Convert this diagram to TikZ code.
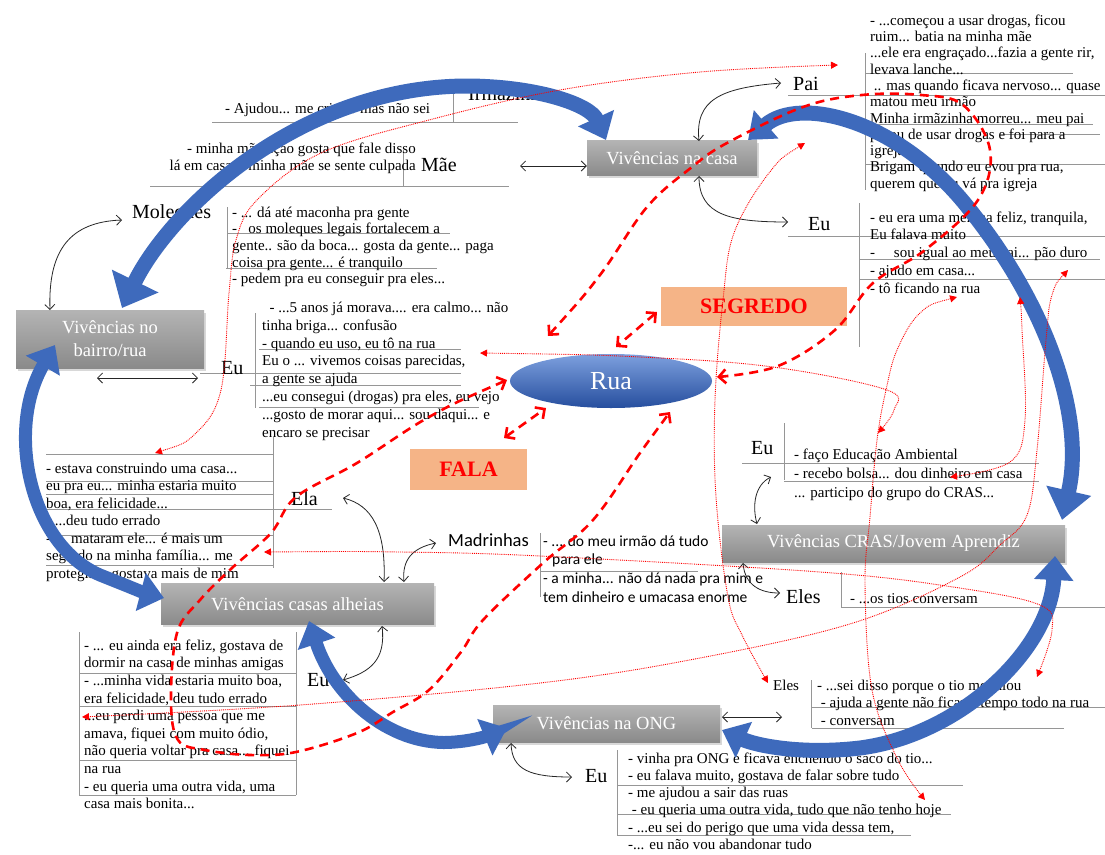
\documentclass[tikz,border=0pt]{standalone}
\usepackage{fontspec}
\setmainfont{Liberation Serif}
\newfontfamily\carl{Carlito}
\usetikzlibrary{arrows.meta,shapes.geometric,shadows}
\definecolor{boxtop}{RGB}{180,180,180}
\definecolor{boxbot}{RGB}{138,138,138}
\definecolor{bluearr}{RGB}{62,106,188}
\definecolor{ruatop}{RGB}{125,160,222}
\definecolor{ruabot}{RGB}{38,78,158}
\definecolor{orng}{RGB}{245,180,135}
\definecolor{sep}{RGB}{150,150,150}
\tikzset{
 tx/.style={anchor=north west, inner sep=0pt, align=left},
 one/.style={anchor=base west, inner sep=0pt, font=\fontsize{15}{17.5}\selectfont},
 lbl/.style={anchor=base west, inner sep=0pt, font=\fontsize{20}{22}\selectfont},
 sepline/.style={draw=sep, line width=0.7pt},
 gbox/.style={draw=none, top color=boxtop, bottom color=boxbot, text=white, font=\fontsize{18.5}{23}\selectfont, drop shadow={shadow xshift=2pt, shadow yshift=-2.5pt, opacity=0.3}, inner sep=0pt, align=center},
 obox/.style={fill=orng, text=red, font=\fontsize{22}{24}\selectfont\bfseries, inner sep=0pt},
 blk/.style={draw=black!85, line width=0.8pt, {Straight Barb[length=5pt,width=10pt]}-{Straight Barb[length=5pt,width=10pt]}},
 bluea/.style={draw=bluearr, line width=13pt, {Triangle[length=24pt,width=38pt]}-{Triangle[length=24pt,width=38pt]}},
 rdash/.style={draw=red, line width=2.6pt, dash pattern=on 9pt off 6pt, {Straight Barb[length=7pt,width=14pt]}-{Straight Barb[length=7pt,width=14pt]}},
 rdot/.style={draw=red, line width=0.9pt, densely dotted, {Triangle[length=7pt,width=7pt]}-{Triangle[length=7pt,width=7pt]}},
}
\begin{document}
\begin{tikzpicture}[x=1pt,y=-1pt]
\useasboundingbox[fill=white] (0,0) rectangle (1105,854);

% ---------- separator lines ----------
\draw[sepline] (212,122) -- (518,122) (453,87) -- (453,122);
\draw[sepline] (403,150) -- (403,186) (150,186) -- (509,186);
\draw[sepline] (227,207) -- (227,268) (227,233) -- (450,233) (226,268) -- (437,268);
\draw[sepline] (200,373) -- (461,373) (255,313) -- (255,408) (259,349) -- (461,349) (250,385) -- (461,385) (259,407) -- (479,407);
\draw[sepline] (273,437) -- (273,568) (46,454) -- (273,454) (46,481) -- (273,481) (46,494) -- (273,494) (46,509) -- (332,509) (46,535) -- (273,535) (46,565) -- (273,565);
\draw[sepline] (540,533) -- (540,597) (540,571) -- (698,571);
\draw[sepline] (865,53) -- (865,190) (865,73) -- (1073,73) (788,95) -- (1105,95) (865,124) -- (1093,124) (1000,134) -- (1100,134) (865,164) -- (1105,164);
\draw[sepline] (859,203) -- (859,347) (788,236) -- (1105,236) (860,259) -- (1100,259) (860,279) -- (1105,279);
\draw[sepline] (742,463) -- (1039,463) (784,423) -- (784,480) (784,481) -- (1039,481);
\draw[sepline] (841,572) -- (841,607) (841,607) -- (1105,607);
\draw[sepline] (811,680) -- (811,728) (812,707) -- (1105,707) (812,728) -- (1064,728);
\draw[sepline] (617,750) -- (617,835) (617,785) -- (963,785) (617,814) -- (951,814) (617,835) -- (911,835);
\draw[sepline] (79,632) -- (79,795) (296,632) -- (296,795) (79,673) -- (296,673) (79,706) -- (296,706) (79,760) -- (296,760) (79,795) -- (296,795);

% ---------- texts ----------
\node[one] (tirma) at (225,113) {- Ajudou... me criar... mas não sei};
\node[lbl] (irma) at (468,100) {Irmãzinha};
\node[tx, anchor=north east, align=right, font=\fontsize{15}{17}\selectfont] (tmae) at (416,141.1) {\strut- minha mãe nçao gosta que fale disso\\lá em casa... minha mãe se sente culpada};
\node[lbl] (mae) at (421,171) {Mãe};
\node[lbl] (moleq) at (132,218) {Moleques};
\node[tx, font=\fontsize{15}{16.7}\selectfont] (tmol) at (232,205.3) {\strut- ... dá até maconha pra gente\\-\ \ \ os moleques legais fortalecem a\\gente.. são da boca... gosta da gente... paga\\coisa pra gente... é tranquilo\\- pedem pra eu conseguir pra eles...};
\node[lbl] (eub) at (221,374) {Eu};
\node[tx, font=\fontsize{15}{17.9}\selectfont] (tbairro) at (262,299.5) {\strut\ \ - ...5 anos já morava.... era calmo... não\\tinha briga... confusão\\- quando eu uso, eu tô na rua\\Eu o ... vivemos coisas parecidas,\\a gente se ajuda\\...eu consegui (drogas) pra eles, eu vejo\\...gosto de morar aqui... sou daqui... e\\encaro se precisar};
\node[tx, font=\fontsize{15}{17.5}\selectfont] (tela) at (46,460.75) {\strut- estava construindo uma casa...\\eu pra eu... minha estaria muito\\boa, era felicidade...\\- ...deu tudo errado\\- ... mataram ele... é mais um\\segredo na minha família... me\\protegia... gostava mais de mim};
\node[lbl] (ela) at (291,505) {Ela};
\node[lbl, font=\carl\fontsize{18.5}{20}\selectfont] (madr) at (448,546) {Madrinhas};
\node[tx, font=\carl\fontsize{15.5}{18.7}\selectfont] (tmadr) at (543,532.9) {\strut- ... do meu irmão dá tudo\\\hspace*{9pt}para ele\\- a minha... não dá nada pra mim e\\tem dinheiro e umacasa enorme};
\node[lbl] (pai) at (793,90) {Pai};
\node[tx, font=\fontsize{15}{16.3}\selectfont] (tpai) at (870,13.6) {\strut- ...começou a usar drogas, ficou\\ruim... batia na minha mãe\\...ele era engraçado...fazia a gente rir,\\levava lanche...\\\ .. mas quando ficava nervoso... quase\\matou meu irmão\\Minha irmãzinha morreu... meu pai\\parou de usar drogas e foi para a\\igreja\\Brigam quando eu evou pra rua,\\querem que eu vá pra igreja};
\node[lbl] (euc) at (808,230) {Eu};
\node[tx, font=\fontsize{15}{17.8}\selectfont] (tcasa) at (870,209.5) {\strut- eu era uma menina feliz, tranquila,\\Eu falava muito\\-\ \ \ \ \ sou igual ao meu pai... pão duro\\- ajudo em casa...\\- tô ficando na rua};
\node[lbl] (eucr) at (751,454) {Eu};
\node[tx, font=\fontsize{15}{19}\selectfont] (tcras) at (794,445.7) {\strut- faço Educação Ambiental\\- recebo bolsa... dou dinheiro em casa\\... participo do grupo do CRAS...};
\node[lbl] (elescr) at (786,603) {Eles};
\node[one] (ttios) at (850,603) {- ...os tios conversam};
\node[one] (eleso) at (773,690) {Eles};
\node[tx, font=\fontsize{15}{17.5}\selectfont] (teles) at (817,677.75) {\strut- ...sei disso porque o tio me falou\\\ - ajuda a gente não ficar o tempo todo na rua\\\ - conversam};
\node[lbl] (euo) at (585,782) {Eu};
\node[tx, font=\fontsize{15}{17.2}\selectfont] (tong) at (628,751) {\strut- vinha pra ONG e ficava enchendo o saco do tio...\\- eu falava muito, gostava de falar sobre tudo\\- me ajudou a sair das ruas\\\ - eu queria uma outra vida, tudo que não tenho hoje\\- ...eu sei do perigo que uma vida dessa tem,\\-... eu não vou abandonar tudo};
\node[lbl] (eua) at (307,686) {Eu};
\node[tx, font=\fontsize{15}{17.6}\selectfont] (talh) at (84,637.7) {\strut- ... eu ainda era feliz, gostava de\\dormir na casa de minhas amigas\\- ...minha vida estaria muito boa,\\era felicidade, deu tudo errado\\...eu perdi uma pessoa que me\\amava, fiquei com muito ódio,\\não queria voltar pra casa... fiquei\\na rua\\- eu queria uma outra vida, uma\\casa mais bonita...};

% ---------- boxes ----------
\node[gbox, minimum width=170pt, minimum height=35pt] (casa) at (672,158) {Vivências na casa};
\node[gbox, minimum width=188pt, minimum height=58pt] (bairro) at (110,339) {Vivências no\\bairro/rua};
\node[gbox, minimum width=273pt, minimum height=41pt] (alheias) at (297.5,604) {Vivências casas alheias};
\node[gbox, minimum width=343pt, minimum height=37pt] (cras) at (893.5,543.5) {Vivências CRAS/Jovem Aprendiz};
\node[gbox, minimum width=227pt, minimum height=37pt] (ong) at (606.5,723.5) {Vivências na ONG};
\node[ellipse, minimum width=202pt, minimum height=54pt, top color=ruatop, bottom color=ruabot, text=white, font=\fontsize{26}{28}\selectfont, inner sep=0pt] (rua) at (611,381) {Rua};
\node[obox, minimum width=186pt, minimum height=39pt] (segredo) at (754,306.5) {SEGREDO};
\node[obox, minimum width=117pt, minimum height=41pt] (fala) at (468.5,469.5) {FALA};

% ---------- black arrows ----------
\draw[blk] (520,166) -- (casa.west |- 0,166);
\draw[blk] (699,141) .. controls (695,100) and (720,88) .. (781,83);
\draw[blk] (699,176) .. controls (699,215) and (730,222) .. (788,222);
\draw[blk] (50,310) .. controls (48,250) and (70,222) .. (122,220);
\draw[blk] (97,378) -- (198,378);
\draw[blk] (343,498) .. controls (372,505) and (386,530) .. (384,582);
\draw[blk] (436,543) .. controls (412,548) and (402,560) .. (404,582);
\draw[blk] (771,477) .. controls (755,485) and (752,505) .. (757,524);
\draw[blk] (743,563) .. controls (745,585) and (760,593) .. (780,593);
\draw[blk] (722,717) -- (782,717);
\draw[blk] (511,743) .. controls (512,770) and (530,777) .. (572,777);
\draw[blk] (382,626) .. controls (386,660) and (370,672) .. (343,680);

% ---------- blue block arrows ----------
\draw[bluea, line width=15pt, {Triangle[length=30pt,width=50pt]}-{Triangle[length=24pt,width=38pt]}] (122,308) .. controls (170,210) and (300,85) .. (470,86) .. controls (540,87) and (590,105) .. (606,140);
\draw[bluea, line width=15pt, {Triangle[length=24pt,width=36pt]}-{Triangle[length=30pt,width=44pt]}] (748,140) .. controls (800,95) and (900,120) .. (970,210) .. controls (1050,310) and (1085,420) .. (1062,520);
\draw[bluea, line width=15pt] (1055,556) .. controls (1050,650) and (960,735) .. (860,748) .. controls (800,755) and (755,745) .. (722,730);
\draw[bluea] (309,621) .. controls (335,700) and (395,748) .. (455,742) .. controls (480,740) and (495,733) .. (507,728);
\draw[bluea] (55,345) .. controls (5,430) and (30,545) .. (100,575) .. controls (125,585) and (145,593) .. (164,598);

% ---------- red dashed ----------
\draw[rdash] plot[smooth, tension=0.6] coordinates {(548,336) (600,275) (647,207) (692,167) (727,143) (803,107) (862,95) (921,95) (963,105) (990,150) (978,200) (925,250) (873,283) (835,330) (778,366) (717,377)};
\draw[rdash] (657,312) -- (616,347);
\draw[rdash] (504,438) -- (546,408);
\draw[rdash] plot[smooth, tension=0.6] coordinates {(507,380) (429,417) (357,463) (296,497) (271,533) (232,568) (200,600) (177,633) (171,700) (178,740) (205,750) (250,755) (296,752) (357,733) (393,712) (429,690) (461,652) (483,620) (543,563) (593,520) (640,453) (670,412)};

% ---------- red dotted ----------
\draw[rdot] plot[smooth, tension=0.6] coordinates {(155,453) (196,433) (221,390) (229,293) (236,240) (257,200) (321,153) (429,120) (560,90) (700,72) (838,65)};
\draw[rdot] plot[smooth, tension=0.6] coordinates {(480,353) (640,357) (773,367) (887,390) (894,410) (878,433)};
\draw[rdot] plot[smooth, tension=0.6] coordinates {(805,143) (769,173) (734,233) (723,300) (715,400) (716,497) (728,597) (742,635) (768,683)};
\draw[rdot] plot[smooth, tension=0.6] coordinates {(957,297) (920,313) (897,350) (886,390) (877,440) (870,517) (865,583) (872,690) (898,760) (925,800)};
\draw[rdot] plot[smooth, tension=0.6] coordinates {(1020,297) (1022,330) (1025,420) (1010,462) (950,477)};
\draw[rdot] plot[smooth, tension=0.6] coordinates {(1068,270) (1052,295) (1046,340) (1037,450) (1027,515) (1000,545) (960,577) (853,623) (700,658) (540,683) (300,705) (82,717)};
\draw[rdot] plot[smooth, tension=0.6] coordinates {(264,552) (400,552) (540,556) (820,572) (953,587) (1040,605) (1052,630) (1037,677)};
\end{tikzpicture}
\end{document}
